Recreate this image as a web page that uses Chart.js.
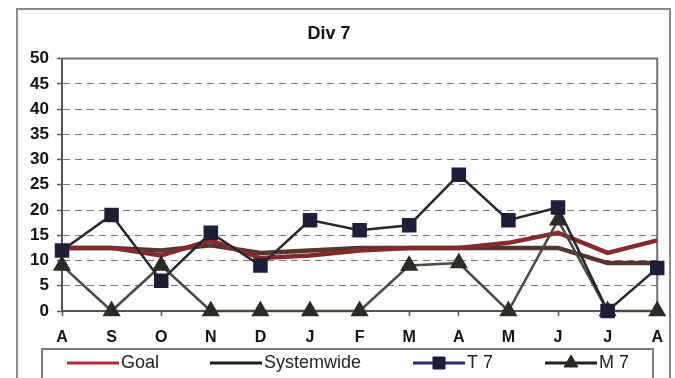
<!DOCTYPE html>
<html>
<head>
<meta charset="utf-8">
<script src="https://cdn.jsdelivr.net/npm/chart.js@4.4.1/dist/chart.umd.min.js"></script>
<style>
  html, body { margin: 0; padding: 0; background: #fff; }
  #wrap { position: relative; width: 675px; height: 378px; overflow: hidden; }
  #frame { position: absolute; left: 16px; top: 8px; width: 651px; height: 400px;
           border: 2px solid #8c8c8c; border-bottom: none; }
  canvas { position: absolute; left: 0; top: 0; }
</style>
</head>
<body>
<div id="wrap">
  <div id="frame"></div>
  <canvas id="chart" width="675" height="378"></canvas>
</div>
<script>
// month initials, Aug through Aug
const months = ['A', 'S', 'O', 'N', 'D', 'J', 'F', 'M', 'A', 'M', 'J', 'J', 'A'];

const goal       = [12.5, 12.5, 11, 14, 10.5, 11, 12, 12.5, 12.5, 13.5, 15.5, 11.5, 14];
const systemwide = [12.5, 12.5, 12, 13, 11.5, 12, 12.5, 12.5, 12.5, 12.5, 12.5, 9.5, 9.5];
const t7         = [12, 19, 6, 15.5, 9, 18, 16, 17, 27, 18, 20.5, 0, 8.5];
const m7         = [9, 0, 9, 0, 0, 0, 0, 9, 9.5, 0, 18, 0, 0];

const yTicks = { min: 0, max: 50, step: 5 };

const FONT = 'Arial, "Liberation Sans", sans-serif';

// solid top/right edges of the plot box
const plotBox = {
  id: 'plotBox',
  beforeDatasetsDraw(chart) {
    const { ctx, chartArea: a } = chart;
    ctx.save();
    ctx.strokeStyle = '#707070';
    ctx.lineWidth = 2;
    ctx.beginPath();
    ctx.moveTo(a.left, a.top);
    ctx.lineTo(a.right, a.top);
    ctx.lineTo(a.right, a.bottom);
    ctx.stroke();
    ctx.restore();
  }
};

// boxed legend along the bottom
const legendSlots = [67, 210, 413, 545];
const legendBox = {
  id: 'legendBox',
  afterDraw(chart) {
    const ctx = chart.ctx;
    ctx.save();
    ctx.strokeStyle = '#7a7a7a';
    ctx.lineWidth = 2;
    ctx.strokeRect(42, 349, 611, 32);
    const y = 363;
    ctx.font = '18px ' + FONT;
    ctx.textBaseline = 'middle';
    ctx.fillStyle = '#222';
    chart.data.datasets.forEach((ds, i) => {
      const x0 = legendSlots[i];
      const len = 52;
      ctx.strokeStyle = ds.legendColor || ds.borderColor;
      ctx.lineWidth = 3;
      ctx.beginPath();
      ctx.moveTo(x0, y);
      ctx.lineTo(x0 + len, y);
      ctx.stroke();
      if (ds.pointRadius > 0) {
        ctx.fillStyle = ds.pointBackgroundColor;
        ctx.strokeStyle = ds.pointBorderColor;
        ctx.lineWidth = 1;
        Chart.helpers.drawPoint(ctx, {
          pointStyle: ds.pointStyle, radius: ds.pointRadius, borderWidth: 1
        }, x0 + len / 2, y);
      }
      ctx.fillStyle = '#222';
      ctx.fillText(ds.label, x0 + len + 2, y);
    });
    ctx.restore();
  }
};

new Chart(document.getElementById('chart'), {
  type: 'line',
  data: {
    labels: months,
    datasets: [
      {
        label: 'Goal', data: goal, order: 3,
        borderColor: '#852a2c', legendColor: '#b02a3c', borderWidth: 4.5,
        pointRadius: 0, tension: 0
      },
      {
        label: 'Systemwide', data: systemwide, order: 4,
        borderColor: '#56362c', legendColor: '#1e1e1e', borderWidth: 4.5,
        pointRadius: 0, tension: 0
      },
      {
        label: 'T 7', data: t7, order: 1, clip: false,
        borderColor: '#26262e', legendColor: '#2a2a70', borderWidth: 2.5,
        pointStyle: 'rect', pointRadius: 8.5,
        pointBackgroundColor: '#1e1e38', pointBorderColor: '#1e1e38', tension: 0
      },
      {
        label: 'M 7', data: m7, order: 2, clip: false,
        borderColor: '#4a4a40', legendColor: '#222', borderWidth: 2.5,
        pointStyle: 'triangle', pointRadius: 8,
        pointBackgroundColor: '#2c2c26', pointBorderColor: '#2c2c26', tension: 0
      }
    ]
  },
  options: {
    responsive: false,
    animation: false,
    devicePixelRatio: 1,
    layout: { padding: { left: 0, right: 17, top: 0, bottom: 0 } },
    plugins: {
      legend: { display: false },
      tooltip: { enabled: false },
      title: {
        display: true,
        text: 'Div 7',
        color: '#111',
        font: { family: FONT, size: 18, weight: 'bold' },
        padding: { top: 23, bottom: 14 }
      }
    },
    scales: {
      x: {
        offset: false,
        grid: { drawOnChartArea: false, tickLength: 5, tickColor: '#555', tickWidth: 1.5 },
        border: { color: '#555', width: 2 },
        ticks: {
          color: '#111', padding: 12, maxRotation: 0, autoSkip: false,
          font: { family: FONT, size: 16, weight: 'bold' }
        },
        afterFit(s) { s.height = 67; }
      },
      y: {
        min: yTicks.min,
        max: yTicks.max,
        grid: { color: '#7a7a7a', lineWidth: 1, tickLength: 5, tickColor: '#555', tickWidth: 1.5 },
        border: { color: '#555', width: 2, dash: [7, 5] },
        ticks: {
          stepSize: yTicks.step, color: '#111', padding: 8,
          font: { family: FONT, size: 17, weight: 'bold' }
        },
        afterFit(s) { s.width = 62; }
      }
    }
  },
  plugins: [plotBox, legendBox]
});
</script>
</body>
</html>
